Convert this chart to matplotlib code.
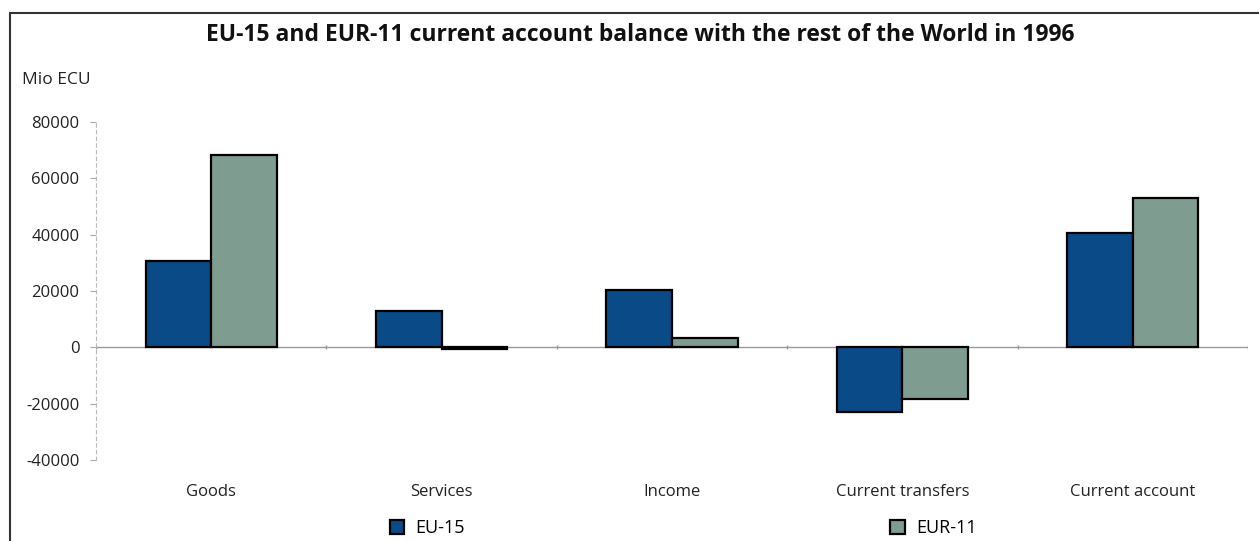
import numpy as np
import matplotlib.pyplot as plt
from matplotlib.patches import Rectangle

categories = ["Goods", "Services", "Income", "Current transfers", "Current account"]
eu15 = [30600, 12900, 20300, -23100, 40500]
eur11 = [68300, -500, 3200, -18500, 53000]
yticks = [-40000, -20000, 0, 20000, 40000, 60000, 80000]

blue = "#0a4a86"
green = "#7f9c90"

plt.rcParams['font.family'] = ['Open Sans', 'DejaVu Sans']

fig = plt.figure(figsize=(12.59, 5.41), dpi=100)
fig.patch.set_facecolor("white")
ax = fig.add_axes([96 / 1259, 1 - 460 / 541, (1248 - 96) / 1259, (460 - 122) / 541])

x = np.arange(len(categories))
w = 0.285
ax.bar(x - w / 2, eu15, w, color=blue, edgecolor="black", linewidth=1.6, label="EU-15", zorder=3)
ax.bar(x + w / 2, eur11, w, color=green, edgecolor="black", linewidth=1.6, label="EUR-11", zorder=3)

ax.set_xlim(-0.5, len(categories) - 0.5)
ax.set_ylim(-40000, 80000)
ax.axhline(0, color="#999999", linewidth=1.0, zorder=2)
# small ticks between categories on the zero line
ax.vlines(np.arange(len(categories) + 1) - 0.5, -700, 700, color="#999999", linewidth=1.0, zorder=2)

ax.set_yticks(yticks)
ax.set_yticklabels([str(v) for v in yticks], fontsize=12, color="#222222")
ax.tick_params(axis="y", length=4, color="#aaaaaa", pad=8)
ax.set_xticks(x)
ax.set_xticklabels(categories, fontsize=12, color="#222222")
ax.tick_params(axis="x", length=0, pad=17)

for s in ["top", "right", "bottom"]:
    ax.spines[s].set_visible(False)
ax.spines["left"].set_linestyle((0, (3, 3)))
ax.spines["left"].set_color("#bbbbbb")
ax.spines["left"].set_linewidth(0.8)

fig.text(640 / 1259, 1 - 35 / 541, "EU-15 and EUR-11 current account balance with the rest of the World in 1996",
         ha="center", va="center", fontsize=16.5, fontweight="bold", color="#111111")
fig.text(22 / 1259, 1 - 80 / 541, "Mio ECU", ha="left", va="center", fontsize=12.5, color="#222222")

leg = fig.legend(loc="center", bbox_to_anchor=(683 / 1259, 1 - 528 / 541), ncol=2, frameon=False,
                 fontsize=13, columnspacing=23.6, handlelength=0.8, handleheight=0.8, handletextpad=0.6)

# figure frame
fig.add_artist(Rectangle((10 / 1259, -0.05), 1.2, 1 - 13 / 541 + 0.05, transform=fig.transFigure,
                         fill=False, edgecolor="#333333", linewidth=1.5))

fig.savefig("out.png", dpi=100, facecolor="white")
